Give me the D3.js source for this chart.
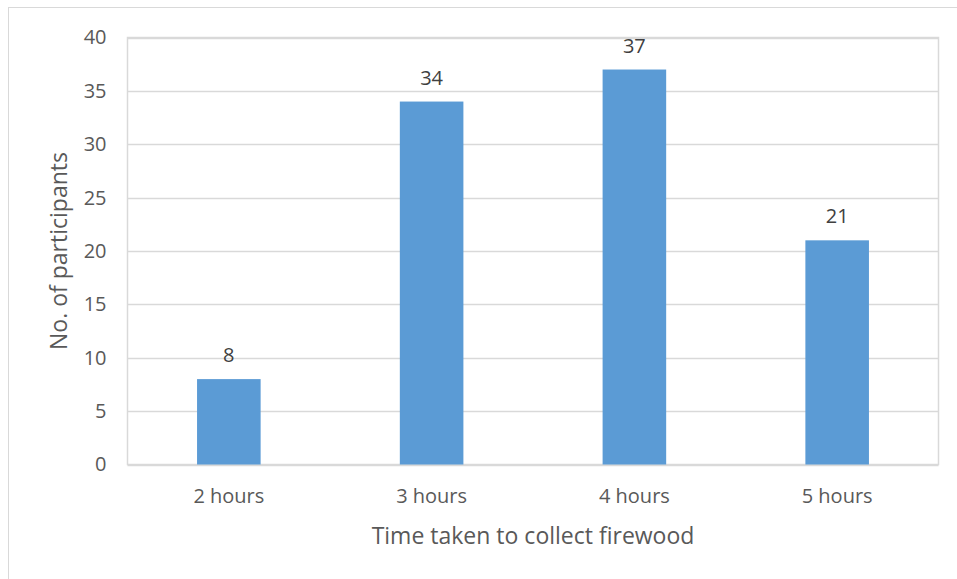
<!DOCTYPE html>
<html>
<head>
<meta charset="utf-8">
<script src="https://cdn.jsdelivr.net/npm/d3@7/dist/d3.min.js"></script>
<style>
html,body{margin:0;padding:0;background:#fff;}
svg{display:block;}
text{font-family:"Open Sans","Noto Sans",sans-serif;}
</style>
</head>
<body>
<svg id="chart" width="957" height="579"></svg>
<script>
const categories = ["2 hours", "3 hours", "4 hours", "5 hours"];
const values = [8, 34, 37, 21];
const yTicks = [0, 5, 10, 15, 20, 25, 30, 35, 40];
const xTitle = "Time taken to collect firewood";
const yTitle = "No. of participants";

const svg = d3.select("#chart");
const W = 957, H = 579;
const plot = {left: 127.5, right: 938.5, top: 37.5, bottom: 464.5};

// outer chart frame (only left & top visible)
svg.append("rect")
  .attr("x", 8.5).attr("y", 7.5)
  .attr("width", W + 20).attr("height", H + 20)
  .attr("fill", "#fff").attr("stroke", "#d9d9d9").attr("stroke-width", 1);

const x = d3.scaleBand()
  .domain(categories)
  .range([plot.left, plot.right])
  .paddingInner(0.6865)
  .paddingOuter(0.343);

const y = d3.scaleLinear().domain([0, 40]).range([plot.bottom, plot.top]);

// gridlines
svg.append("g")
  .selectAll("line")
  .data(yTicks)
  .join("line")
  .attr("x1", plot.left).attr("x2", plot.right)
  .attr("y1", d => Math.round(y(d)) + 0.5).attr("y2", d => Math.round(y(d)) + 0.5)
  .attr("stroke", "#d9d9d9").attr("stroke-width", 1.5);

// plot border
svg.append("rect")
  .attr("x", plot.left).attr("y", plot.top)
  .attr("width", plot.right - plot.left).attr("height", plot.bottom - plot.top)
  .attr("fill", "none").attr("stroke", "#d9d9d9").attr("stroke-width", 1.5);

// bars
svg.append("g")
  .selectAll("rect")
  .data(values)
  .join("rect")
  .attr("x", (d, i) => x(categories[i]))
  .attr("width", x.bandwidth())
  .attr("y", d => y(d))
  .attr("height", d => y(0) - y(d))
  .attr("fill", "#5b9bd5");

// data labels
svg.append("g")
  .selectAll("text")
  .data(values)
  .join("text")
  .attr("x", (d, i) => x(categories[i]) + x.bandwidth() / 2)
  .attr("y", d => y(d) - 17)
  .attr("text-anchor", "middle")
  .attr("font-size", 20)
  .attr("fill", "#404040")
  .text(d => d);

// y axis
const yAxis = d3.axisLeft(y).tickValues(yTicks).tickSize(0).tickPadding(0);
const yg = svg.append("g")
  .attr("transform", `translate(${plot.left - 21},0)`)
  .call(yAxis);
yg.select(".domain").remove();
yg.selectAll("text")
  .attr("font-size", 20)
  .attr("fill", "#595959")
  .attr("font-family", "'Open Sans','Noto Sans',sans-serif");

// x axis
const xAxis = d3.axisBottom(x).tickSize(0).tickPadding(0);
const xg = svg.append("g")
  .attr("transform", `translate(0,${plot.bottom + 24})`)
  .call(xAxis);
xg.select(".domain").remove();
xg.selectAll("text")
  .attr("font-size", 20)
  .attr("fill", "#595959")
  .attr("font-family", "'Open Sans','Noto Sans',sans-serif");

// axis titles
svg.append("text")
  .attr("x", (plot.left + plot.right) / 2)
  .attr("y", 544)
  .attr("text-anchor", "middle")
  .attr("font-size", 23)
  .attr("fill", "#595959")
  .text(xTitle);

svg.append("text")
  .attr("transform", `translate(67,${(plot.top + plot.bottom) / 2}) rotate(-90)`)
  .attr("text-anchor", "middle")
  .attr("font-size", 23)
  .attr("fill", "#595959")
  .text(yTitle);
</script>
</body>
</html>
